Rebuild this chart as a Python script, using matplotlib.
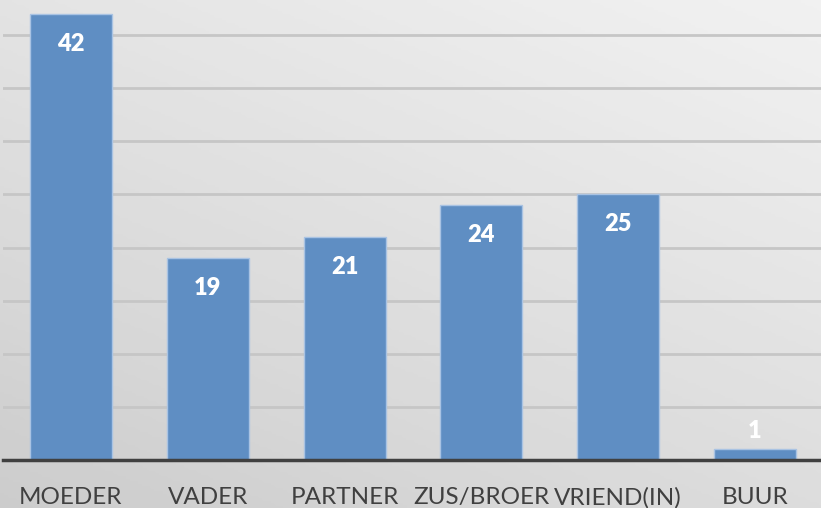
import matplotlib.pyplot as plt
import numpy as np

# data
categories = ['MOEDER', 'VADER', 'PARTNER', 'ZUS/BROER', 'VRIEND(IN)', 'BUUR']
values = [42, 19, 21, 24, 25, 1]

plt.rcParams['font.family'] = ['Lato', 'DejaVu Sans']

fig = plt.figure(figsize=(8.21, 5.08), dpi=100)

# background gradient (lighter top right, darker bottom left)
bg = fig.add_axes([0, 0, 1, 1])
yy, xx = np.mgrid[0:1:200j, 0:1:200j]
grad = 0.6 * yy + 0.4 * xx
bg.imshow(grad, cmap='Greys_r', vmin=-3.6, vmax=1.6, origin='lower',
          extent=[0, 1, 0, 1], aspect='auto')
bg.axis('off')

ax = fig.add_axes([2.5 / 821, 48 / 508, 821 / 821, 460 / 508])
ax.patch.set_alpha(0)
x = np.arange(len(categories))
bars = ax.bar(x, values, width=0.6, color='#5f8ec3', edgecolor='#a9c3e3',
              linewidth=1, zorder=3)

ax.set_xlim(-0.5, 5.5)
ax.set_ylim(0, 43.3)
ax.set_yticks(np.arange(5, 45, 5))
ax.yaxis.grid(True, color='#c6c6c6', linewidth=2, zorder=0)
ax.tick_params(axis='y', left=False, labelleft=False)
ax.tick_params(axis='x', length=0, pad=32, labelsize=17.5, labelcolor='#404040')
ax.set_xticks(x)
ax.set_xticklabels(categories)
for lbl in ax.get_xticklabels():
    lbl.set_va('baseline')
for s in ['top', 'right', 'left']:
    ax.spines[s].set_visible(False)
ax.spines['bottom'].set_color('#404040')
ax.spines['bottom'].set_linewidth(2.5)
ax.spines['bottom'].set_zorder(4)

for xi, v in zip(x, values):
    if v > 3:
        ax.annotate(str(v), (xi, v), xytext=(0, -30), textcoords='offset pixels',
                    ha='center', va='center', color='white', fontsize=17,
                    fontweight='heavy')
    else:
        ax.annotate(str(v), (xi, v), xytext=(0, 18), textcoords='offset pixels',
                    ha='center', va='center', color='white', fontsize=17,
                    fontweight='heavy')

fig.savefig('out.png', dpi=100)
